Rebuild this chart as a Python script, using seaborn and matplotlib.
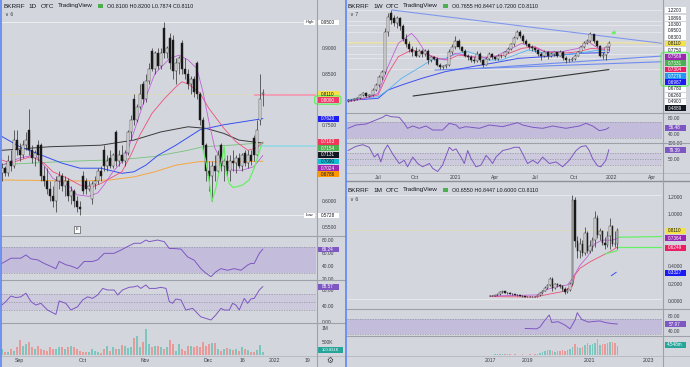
import numpy as np
import matplotlib
matplotlib.use("Agg")
import matplotlib.pyplot as plt
import seaborn as sns
from matplotlib.lines import Line2D
from matplotlib.patches import Rectangle, FancyBboxPatch
from matplotlib.ticker import FormatStrFormatter

W, H = 690, 367
sns.set_theme(style="white")
plt.rcParams['font.family'] = ['Liberation Sans', 'DejaVu Sans']

BG = '#d4d6dd'
TXT = '#3b3e48'
SEP = '#9da1aa'
UP_FACE, DN_FACE, EDGE = '#f4f4f4', '#111111', '#2f2f2f'
VOL_UP, VOL_DN = '#7cc6bd', '#e99a98'
RSI_C = '#7e57c2'

# ---------------- DAILY (1D) ----------------
d_open = [0.655,0.665,0.655,0.680,0.670,0.720,0.700,0.690,0.710,0.740,
          0.700,0.685,0.710,0.710,0.650,0.640,0.625,0.610,0.600,0.640,
          0.650,0.630,0.640,0.610,0.620,0.600,0.590,0.650,0.640,0.625,
          0.605,0.635,0.640,0.660,0.700,0.670,0.685,0.670,0.735,0.680,
          0.690,0.680,0.695,0.735,0.800,0.760,0.785,0.830,0.800,0.835,
          0.895,0.860,0.890,0.865,0.940,0.890,0.920,0.915,0.855,0.870,
          0.910,0.860,0.850,0.830,0.840,0.870,0.810,0.760,0.710,0.660,
          0.650,0.670,0.660,0.710,0.670,0.680,0.660,0.680,0.675,0.685,
          0.670,0.695,0.675,0.690,0.725,0.690,0.760,0.810]
d_high = [0.675,0.670,0.690,0.700,0.740,0.740,0.715,0.720,0.735,0.780,
          0.710,0.700,0.720,0.715,0.670,0.665,0.640,0.630,0.650,0.660,
          0.655,0.650,0.645,0.630,0.625,0.610,0.600,0.660,0.645,0.640,
          0.640,0.650,0.665,0.670,0.710,0.690,0.700,0.695,0.740,0.700,
          0.710,0.700,0.740,0.770,0.810,0.790,0.830,0.835,0.850,0.870,
          0.900,0.895,0.900,0.900,0.950,0.905,0.930,0.925,0.880,0.885,
          0.915,0.880,0.860,0.845,0.845,0.875,0.815,0.765,0.715,0.680,
          0.680,0.690,0.700,0.715,0.685,0.690,0.690,0.700,0.690,0.695,
          0.695,0.700,0.700,0.700,0.730,0.760,0.850,0.820]
d_low = [0.640,0.650,0.650,0.660,0.665,0.690,0.680,0.685,0.700,0.690,
         0.675,0.670,0.680,0.640,0.630,0.615,0.600,0.590,0.580,0.625,
         0.620,0.610,0.600,0.595,0.590,0.580,0.573,0.615,0.615,0.620,
         0.595,0.625,0.635,0.640,0.660,0.660,0.665,0.665,0.670,0.670,
         0.675,0.670,0.690,0.720,0.750,0.755,0.780,0.790,0.795,0.830,
         0.855,0.850,0.860,0.860,0.880,0.880,0.860,0.840,0.830,0.850,
         0.850,0.840,0.820,0.810,0.805,0.800,0.750,0.700,0.640,0.620,
         0.600,0.640,0.650,0.660,0.640,0.650,0.640,0.660,0.655,0.665,
         0.660,0.670,0.665,0.672,0.680,0.685,0.750,0.787]
d_close = [0.665,0.655,0.680,0.670,0.720,0.700,0.690,0.710,0.720,0.700,
           0.685,0.695,0.690,0.650,0.640,0.625,0.610,0.600,0.640,0.650,
           0.630,0.640,0.610,0.620,0.600,0.590,0.585,0.620,0.625,0.630,
           0.635,0.640,0.660,0.650,0.670,0.680,0.670,0.690,0.680,0.690,
           0.680,0.695,0.735,0.760,0.760,0.785,0.810,0.800,0.835,0.860,
           0.860,0.890,0.865,0.890,0.890,0.900,0.870,0.855,0.870,0.880,
           0.860,0.850,0.830,0.840,0.815,0.810,0.760,0.710,0.660,0.650,
           0.670,0.660,0.690,0.670,0.680,0.660,0.680,0.675,0.685,0.670,
           0.690,0.675,0.690,0.680,0.690,0.740,0.800,0.811]
d_volume_k = [225,100,100,225,160,300,575,350,410,500,
              290,225,350,225,190,160,290,225,225,310,
              310,225,280,350,290,225,160,125,100,125,
              225,150,100,75,225,350,160,290,225,225,
              375,350,250,300,625,725,290,475,975,410,
              290,325,325,290,225,300,540,410,160,410,
              225,160,350,350,290,350,280,500,350,410,
              450,450,225,160,225,250,225,190,225,160,
              310,225,180,125,100,200,375,100.831]

d_ma_black_x = [0,16,33,44,53,62,68,74,79,87]
d_ma_black_y = [0.700,0.707,0.710,0.720,0.736,0.746,0.743,0.733,0.720,0.714]
d_ma_blue_x = [0,6,13,20,26,33,40,44,48,52,58,66,74,87]
d_ma_blue_y = [0.727,0.707,0.691,0.675,0.665,0.665,0.655,0.658,0.671,0.690,0.710,0.740,0.750,0.762]
d_ma_green_x = [0,20,40,51,62,67,79,87]
d_ma_green_y = [0.672,0.678,0.682,0.688,0.700,0.707,0.711,0.7154]
d_ma_orange_x = [0,25,36,44,51,58,66,75,87]
d_ma_orange_y = [0.642,0.640,0.642,0.648,0.658,0.671,0.678,0.677,0.6786]
d_ma_red_x = [0,3,6,10,14,17,22,26,30,33,36,40,43,46,50,54,58,60,62,66,69,74,78,82,85,87]
d_ma_red_y = [0.681,0.675,0.681,0.688,0.675,0.658,0.645,0.632,0.628,0.635,0.645,0.658,0.691,
              0.730,0.772,0.800,0.824,0.834,0.830,0.812,0.782,0.743,0.717,0.700,0.705,0.7163]
d_ma_purple_x = [0,6,11,14,17,22,25,29,32,34,37,41,44,47,51,56,59,62,65,67,69,71,74,77,80,84,87]
d_ma_purple_y = [0.671,0.685,0.691,0.671,0.645,0.632,0.613,0.610,0.617,0.632,0.658,0.684,0.736,
                 0.789,0.850,0.880,0.886,0.877,0.860,0.815,0.756,0.704,0.671,0.661,0.661,0.668,0.690]
d_draw_x = [66.9,68,69.1,70,71.3,72.4,73.6,74.1,74.7,75.8,77.1,80.2,82.4,84.1,85.8,86.7]
d_draw_y = [0.704,0.678,0.639,0.600,0.626,0.658,0.691,0.707,0.658,0.635,0.627,0.632,0.642,0.665,0.697,0.714]
d_high_level, d_low_level, d_last = 0.95, 0.5728, 0.811
d_ray_pink = (84, 0.809)
d_ray_cyan = (84.7, 0.709)

d_rsi_x = [0,3,6.3,8,9.7,11.9,14.1,18,19.1,21.3,23,25.2,27.4,30.2,31.9,34.1,37.4,39.7,41.9,44.1,
           46.3,48,49.1,51.9,54.1,55.8,57.4,59.7,61.9,64.1,66.3,68,69.7,71.3,73,75.2,77.4,79.7,
           81.9,83,84.1,85.8,87]
d_rsi_y = [44,52,52,57,51,49.5,44,36,47,42,40,36,47,47,49.5,59.5,59.5,64.6,70,75,
           75,80,77.5,80,77.5,67,67,66,54,49,36,29,23.6,31,36,33.5,36,33.5,
           41.5,44,44,59.5,66.24]
d_osc_x = [0,1.3,3,4.7,6.3,8,9.7,11.3,13,15.2,18,19.1,21.3,23,25.2,26.9,28.6,30.2,31.9,33.6,
           35.2,37.4,38.6,40.2,42.4,44.1,45.2,46.3,48,49.1,51.3,53,54.7,55.8,56.9,58,59.7,61.3,
           63.6,66.3,68,69.7,71.3,73,74.1,75.8,76.9,78,79.1,80.8,81.9,83,84.1,85.8,87]
d_osc_y = [42.5,51,65,61,63,72,51,42.5,46.7,30,19,52.5,46.7,30,38,55,63,59,67.5,84,
           80,80,67.5,80,86.7,88,90.5,84,92.5,84,84,86.7,84,51,46.7,57.5,55,30,
           34,13,9,5,17.5,34,30,30,46.7,42.5,30,59,46.7,57.5,59,80,88.57]
d_ticks = [5.7,27,47.7,68.7,80.3,91,102]
d_ticklabels = ['Sep','Oct','Nov','Dec','16','2022','19']

# ---------------- WEEKLY (1W) ----------------
w_open = [0.10,0.12,0.11,0.13,0.14,0.18,0.20,0.16,0.18,0.24,
          0.30,0.40,0.46,0.95,1.18,1.12,1.06,1.12,1.02,0.87,
          0.80,0.74,0.72,0.66,0.72,0.68,0.72,0.60,0.64,0.62,
          0.55,0.52,0.53,0.54,0.70,0.76,0.84,0.76,0.72,0.66,
          0.64,0.61,0.59,0.68,0.60,0.55,0.62,0.68,0.64,0.62,
          0.66,0.65,0.70,0.74,0.80,0.88,0.95,0.90,0.84,0.80,
          0.76,0.75,0.73,0.68,0.65,0.70,0.66,0.68,0.70,0.66,
          0.71,0.63,0.61,0.60,0.62,0.66,0.71,0.76,0.82,0.84,
          0.92,0.84,0.78,0.66,0.67,0.7655]
w_high = [0.13,0.13,0.14,0.15,0.19,0.21,0.21,0.19,0.26,0.32,
          0.42,0.48,1.00,1.18,1.22,1.16,1.15,1.14,1.05,0.92,
          0.84,0.78,0.76,0.74,0.74,0.74,0.74,0.66,0.66,0.64,
          0.57,0.55,0.56,0.74,0.80,0.90,0.86,0.78,0.74,0.68,
          0.67,0.64,0.72,0.70,0.62,0.64,0.70,0.69,0.66,0.68,
          0.68,0.72,0.76,0.82,0.90,0.98,0.97,0.92,0.86,0.82,
          0.79,0.77,0.74,0.70,0.73,0.72,0.70,0.72,0.71,0.73,
          0.72,0.65,0.63,0.64,0.68,0.72,0.78,0.84,0.86,0.95,
          0.93,0.85,0.79,0.70,0.78,0.8447]
w_low = [0.09,0.10,0.10,0.12,0.13,0.16,0.15,0.15,0.17,0.22,
         0.28,0.36,0.44,0.90,1.05,1.02,1.00,0.98,0.84,0.76,
         0.70,0.66,0.64,0.64,0.64,0.66,0.56,0.58,0.60,0.53,
         0.50,0.50,0.51,0.53,0.68,0.74,0.74,0.70,0.64,0.60,
         0.58,0.57,0.58,0.58,0.52,0.54,0.60,0.62,0.60,0.61,
         0.63,0.64,0.69,0.73,0.78,0.86,0.88,0.82,0.78,0.74,
         0.72,0.70,0.65,0.60,0.64,0.62,0.64,0.66,0.64,0.65,
         0.60,0.57,0.58,0.59,0.61,0.65,0.70,0.75,0.80,0.83,
         0.82,0.76,0.64,0.62,0.60,0.72]
w_close = [0.12,0.11,0.13,0.14,0.18,0.20,0.16,0.18,0.24,0.30,
           0.40,0.46,0.95,1.14,1.10,1.06,1.12,1.02,0.87,0.80,
           0.74,0.70,0.66,0.72,0.68,0.72,0.60,0.64,0.62,0.55,
           0.52,0.53,0.54,0.70,0.76,0.84,0.76,0.72,0.66,0.64,
           0.61,0.59,0.68,0.60,0.55,0.62,0.68,0.64,0.62,0.66,
           0.65,0.70,0.74,0.80,0.88,0.95,0.90,0.84,0.80,0.76,
           0.75,0.73,0.68,0.65,0.70,0.66,0.68,0.70,0.66,0.71,
           0.63,0.61,0.60,0.62,0.66,0.71,0.76,0.82,0.84,0.92,
           0.84,0.78,0.66,0.67,0.7655,0.811]
w_ma_purple_x = [0,5.5,9.8,13,16.4,20.7,22.5,25.2,27.5,31.6,34.8,38.1,42.4,47.9,53.3,56.6,59.8,64.2,69.6,75,78.3,81.5,85]
w_ma_purple_y = [0.094,0.135,0.196,0.524,0.811,0.934,0.86,0.70,0.64,0.606,0.688,0.667,0.626,0.647,0.749,0.811,0.770,0.708,0.708,0.749,0.831,0.749,0.7569]
w_ma_red_x = [0,9.8,13,16.4,20.7,25.1,29.4,32.6,35.9,40.3,44.6,51.1,56.6,60.9,64.2,69.6,75,79.4,85]
w_ma_red_y = [0.094,0.176,0.442,0.647,0.729,0.688,0.626,0.606,0.667,0.647,0.640,0.667,0.749,0.770,0.708,0.688,0.708,0.749,0.7304]
w_ma_lblue_x = [0,9.8,13,17.4,22.8,27.2,31.6,35.9,39.2,42.4,45.7,50.1,54.4,58.7,64.2,69.6,75,80.5,85]
w_ma_lblue_y = [0.12,0.155,0.237,0.380,0.503,0.606,0.626,0.688,0.708,0.667,0.606,0.606,0.667,0.729,0.688,0.667,0.688,0.721,0.7276]
w_ma_blue_x = [0,9.8,13,17.4,24,31.6,40.3,47.9,55.5,64.2,75,85]
w_ma_blue_y = [0.11,0.135,0.237,0.298,0.380,0.462,0.524,0.573,0.626,0.647,0.688,0.6987]
w_trend_black = ([21.2,85], [0.164,0.4889])
w_trend_top = ([14.3,102.3], [1.22,0.811])
w_trend_low1 = ([28.3,102.3], [0.483,0.585])
w_trend_low2 = ([42.4,102.3], [0.503,0.655])
w_levels = [1.22,1.0896,1.03,0.95,0.83,0.775,0.678,0.626,0.49]
w_arrow = ((88.0,0.962),(84.8,0.913))
w_rsi_x = [0,2.6,5.9,9.1,11.3,12.4,14,16.7,18.3,19.4,21.1,23.2,25.4,27.6,30.8,33,35.2,36.3,38.4,42.8,
           46,50.4,53.6,55.3,56.9,60.2,63.4,66.7,71,75.4,77.5,79.7,81.9,84,85]
w_rsi_y = [54.5,62.9,65.5,75.7,82.5,88.4,84.2,82.5,67.2,54.5,60.4,54.5,60.4,50.2,50.2,67.2,62.9,54.5,58.7,54.5,
           62.9,58.7,65.5,68.9,62.9,57,54.5,60.4,54.5,60.4,67.2,60.4,48.5,51.8,56.48]
w_osc_x = [0,2.6,4.8,6.9,8.6,9.7,10.7,11.8,12.9,14.5,16.7,18.3,19.4,21.1,22.7,24.3,26.5,27.6,29.2,30.8,
           33,34.1,35.2,36.8,37.9,39,40.1,41.7,43.3,45,46,47.1,48.2,50.4,52.6,54.2,55.8,56.9,58.5,60.2,
           61.8,63.4,65.6,67.8,69.9,72.1,74.3,75.9,77.5,78.6,79.7,81.3,82.4,84,85]
w_osc_y = [76.4,90.2,95.5,87,55.1,65.9,39.2,76.4,94.5,65.9,34.1,44.6,23.4,55.1,34.1,23.4,34.1,18.1,8,28.7,
           87,76.4,81.7,55.1,34.1,76.4,49.8,23.4,28.7,60.5,49.8,34.1,55.1,76.4,81.7,87,87,65.9,34.1,44.6,
           34.1,55.1,34.1,39.4,23.4,44.6,76.4,89.1,92.3,76.4,49.8,26.5,23.4,44.6,79.39]
w_ticks = [9.9,21.9,34.9,47.9,61,73.4,85.8,99]
w_ticklabels = ['Jul','Oct','2021','Apr','Jul','Oct','2022','Apr']

# ---------------- MONTHLY (1M) ----------------
m_open = [0.06,0.06,0.058,0.065,0.075,0.10,0.11,0.095,0.09,0.085,
          0.075,0.07,0.065,0.06,0.055,0.05,0.048,0.045,0.05,0.048,
          0.065,0.09,0.12,0.15,0.18,0.25,0.15,0.19,0.18,0.17,
          0.14,0.10,0.13,0.20,1.16,0.69,0.58,0.66,0.55,0.78,
          0.58,0.63,0.70,0.96,0.76,0.80,0.67,0.64,0.75,0.86,
          0.66,0.655]
m_high = [0.065,0.065,0.07,0.08,0.11,0.12,0.12,0.10,0.10,0.09,
          0.085,0.08,0.07,0.07,0.06,0.06,0.055,0.055,0.06,0.07,
          0.10,0.13,0.17,0.20,0.28,0.27,0.21,0.21,0.20,0.18,
          0.16,0.15,0.22,1.22,1.20,0.75,0.72,0.70,0.85,0.80,
          0.70,0.74,1.03,0.99,0.84,0.82,0.74,0.80,0.95,0.88,
          0.80,0.8447]
m_low = [0.055,0.055,0.055,0.06,0.07,0.09,0.09,0.08,0.08,0.07,
         0.065,0.06,0.055,0.05,0.045,0.045,0.04,0.04,0.045,0.045,
         0.06,0.085,0.11,0.14,0.17,0.12,0.14,0.16,0.15,0.12,
         0.08,0.09,0.12,0.18,0.62,0.50,0.50,0.52,0.53,0.55,
         0.55,0.58,0.62,0.72,0.70,0.64,0.60,0.62,0.60,0.63,
         0.62,0.60]
m_close = [0.06,0.058,0.065,0.075,0.10,0.11,0.095,0.09,0.085,0.075,
           0.07,0.065,0.06,0.055,0.05,0.048,0.045,0.05,0.048,0.065,
           0.09,0.12,0.15,0.18,0.25,0.15,0.19,0.18,0.17,0.14,
           0.10,0.13,0.20,1.16,0.69,0.58,0.66,0.55,0.78,0.58,
           0.63,0.70,0.96,0.76,0.80,0.67,0.64,0.75,0.86,0.66,
           0.655,0.811]
m_volume_m = [0.2,0.2,0.3,0.3,0.4,0.5,0.4,0.3,0.3,0.2,
              0.3,0.2,0.2,0.3,0.2,0.2,0.3,0.2,0.3,0.5,
              1.0,1.6,2.0,2.4,2.2,1.8,1.6,2.0,1.7,2.2,
              2.0,2.4,2.8,4.0,5.4,4.0,3.2,4.0,4.9,5.7,
              4.9,5.2,5.7,7.6,4.9,5.2,5.4,5.7,6.5,6.2,
              6.0,4.548]
m_ma_purple_x = [0,19,22,27,31,33,36,39,42,45,49,51]
m_ma_purple_y = [0.057,0.069,0.126,0.165,0.184,0.26,0.41,0.51,0.66,0.70,0.70,0.72]
m_ma_pink_x = [0,18,24,29,33,34,36,40,44,48,51]
m_ma_pink_y = [0.05,0.045,0.08,0.107,0.17,0.30,0.376,0.45,0.51,0.567,0.62]
m_blue_seg = ([48.5,50.5],[0.29,0.33])
m_green_up = ([51.3,68.8],[0.733,0.742])
m_green_low = ([51.3,68.8],[0.625,0.625])
m_green_seg = ([46,51],[0.54,0.58])
m_rsi_x = [14,18.7,20,22,23.7,24.7,27.3,30,32,34,34.9,36.7,39.3,42,44,46,48.7,51]
m_rsi_y = [46,45,50,68.5,82,62,64,55,45,68,88,70,63,65,66,62,59,57.97]
m_ticks = [0.3,15.1,40,63.6]
m_ticklabels = ['2017','2019','2021','2023']

# ================= FIGURE =================
fig = plt.figure(figsize=(W/100, H/100), dpi=100)
fig.patch.set_facecolor(BG)


def add_ax(x0, y0, x1, y1):
    ax = fig.add_axes([x0/W, 1-y1/H, (x1-x0)/W, (y1-y0)/H])
    ax.set_facecolor(BG)
    for s in ax.spines.values():
        s.set_visible(False)
    ax.tick_params(length=0, labelsize=3.4, colors=TXT, pad=3)
    ax.set_xticks([])
    ax.set_yticks([])
    return ax


def right_ticks(ax, ticks, fmt='%.4f', labels=None):
    ax.yaxis.tick_right()
    ax.set_yticks(ticks)
    if labels is None:
        ax.yaxis.set_major_formatter(FormatStrFormatter(fmt))
    else:
        ax.set_yticklabels(labels)
    ax.tick_params(axis='y', pad=4, labelsize=3.5, colors=TXT)


def fline(x0, y0, x1, y1, color=SEP, lw=0.8):
    fig.add_artist(Line2D([x0/W, x1/W], [1-y0/H, 1-y1/H], transform=fig.transFigure,
                          color=color, lw=lw))


def tag(x, y, s, bg, fg='white', w=21, h=5.8, fs=3.3, ec='none'):
    fig.add_artist(Rectangle((x/W, 1-(y+h/2)/H), w/W, h/H, transform=fig.transFigure,
                             fc=bg, ec=ec, lw=0.4))
    fig.text((x+w/2)/W, 1-y/H, s, ha='center', va='center', fontsize=fs, color=fg)


def green_box(x0, y0, x1, y1):
    fig.add_artist(FancyBboxPatch((x0/W, 1-y1/H), (x1-x0)/W, (y1-y0)/H,
                                  boxstyle='round,pad=0.002,rounding_size=0.006',
                                  transform=fig.transFigure, fc='none', ec='#62f062', lw=0.9))


def candles(ax, o, h, l, c, width):
    o, h, l, c = map(np.asarray, (o, h, l, c))
    idx = np.arange(len(o))
    up = c >= o
    ax.vlines(idx, l, h, color=EDGE, lw=0.5, zorder=3)
    ax.bar(idx, np.maximum(np.abs(c-o), 0.002), bottom=np.minimum(o, c), width=width,
           color=np.where(up, UP_FACE, DN_FACE), edgecolor=EDGE, linewidth=0.35, zorder=4)
    return up


def line(ax, x, y, color, lw=0.6, z=2):
    sns.lineplot(x=np.asarray(x, float), y=np.asarray(y, float), ax=ax, color=color,
                 linewidth=lw, estimator=None, sort=False, zorder=z)


def osc_band(ax, lo, hi, alpha, mid=None):
    ax.axhspan(lo, hi, color='#9a7fd6', alpha=alpha, lw=0, zorder=0)
    levels = [lo, hi] + ([mid] if mid is not None else [])
    for v in levels:
        ax.axhline(v, color='#8a8d96', lw=0.45, ls=(0, (2, 2)), zorder=1)


def header(x, y, tf, ohlc):
    fs = 4.6
    fig.text(x/W, 1-y/H, 'BKRRF', fontsize=fs, color='#131722', va='center')
    fig.text((x+25)/W, 1-y/H, tf, fontsize=fs, color='#131722', va='center')
    fig.text((x+38)/W, 1-y/H, 'OTC', fontsize=fs, color='#131722', va='center')
    fig.text((x+55)/W, 1-y/H, 'TradingView', fontsize=fs, color='#131722', va='center')
    fig.add_artist(Rectangle(((x+95)/W, 1-(y+2.3)/H), 4.5/W, 4.6/H, transform=fig.transFigure,
                             fc='#4caf50', ec='none'))
    fig.text((x+104)/W, 1-y/H, ohlc, fontsize=3.9, color='#131722', va='center')


# ---------- left: daily ----------
axP = add_ax(1, 0, 316, 236)
axR = add_ax(1, 236, 316, 280)
axO = add_ax(1, 280, 316, 323)
axV = add_ax(1, 323, 316, 355)
DX = (-0.3, 104.7)
for a in (axP, axR, axO, axV):
    a.set_xlim(*DX)
axP.set_ylim(0.5324, 0.994)
axR.set_ylim(18.5, 86.2)
axO.set_ylim(-2.5, 105)
axV.set_ylim(0, 1190)

axP.axhline(d_high_level, color='white', lw=0.6, alpha=0.7, zorder=1)
axP.axhline(d_low_level, color='white', lw=0.6, alpha=0.7, zorder=1)
axP.axhline(d_last, color='#efe08a', lw=0.5, ls=(0, (1, 1)), zorder=1)
axP.hlines(d_ray_pink[1], d_ray_pink[0], DX[1], color='#f29bb4', lw=1.3, zorder=1)
axP.hlines(d_ray_cyan[1], d_ray_cyan[0], DX[1], color='#8fd8e6', lw=1.1, zorder=1)
line(axP, d_ma_orange_x, d_ma_orange_y, '#f5a742', 0.7)
line(axP, d_ma_green_x, d_ma_green_y, '#74c27a', 0.6)
line(axP, d_ma_black_x, d_ma_black_y, '#3a3a3a', 0.7)
line(axP, d_ma_blue_x, d_ma_blue_y, '#3550f0', 0.7)
line(axP, d_ma_red_x, d_ma_red_y, '#ee4f7a', 0.6)
line(axP, d_ma_purple_x, d_ma_purple_y, '#c060d8', 0.6)
d_up = candles(axP, d_open, d_high, d_low, d_close, 0.68)
line(axP, d_draw_x, d_draw_y, '#66f066', 0.9, z=5)
right_ticks(axP, [0.55, 0.60, 0.75, 0.85, 0.90])

osc_band(axR, 30, 70, 0.28)
line(axR, d_rsi_x, d_rsi_y, RSI_C, 0.7)
right_ticks(axR, [20, 40, 60, 80], '%.2f')
osc_band(axO, 30, 70, 0.13, mid=50)
line(axO, d_osc_x, d_osc_y, RSI_C, 0.7)
right_ticks(axO, [0, 40, 80], '%.2f')
axV.bar(np.arange(len(d_volume_k)), d_volume_k, width=0.82,
        color=np.where(d_up, VOL_UP, VOL_DN), lw=0)
right_ticks(axV, [500, 1000], labels=['500K', '1M'])
axV.set_xticks(d_ticks)
axV.set_xticklabels(d_ticklabels)
axV.tick_params(axis='x', pad=2.2, labelsize=3.7, colors=TXT)

# ---------- top right: weekly ----------
wP = add_ax(347, 0, 662, 113)
wR = add_ax(347, 113, 662, 143)
wO = add_ax(347, 143, 662, 172)
WX = (-0.33, 102.3)
for a in (wP, wR, wO):
    a.set_xlim(*WX)
wP.set_ylim(-0.0448, 1.343)
wR.set_ylim(17.1, 93.5)
wO.set_ylim(6.4, 101)
for lv in w_levels:
    wP.axhline(lv, color='white', lw=0.5, alpha=0.55, zorder=1)
wP.axhline(0.811, color='#efe08a', lw=1.4, alpha=0.6, zorder=1)
line(wP, *w_trend_top, '#7f98ee', 0.8)
line(wP, *w_trend_low1, '#6f8cf0', 0.8)
line(wP, *w_trend_low2, '#6f8cf0', 0.8)
line(wP, *w_trend_black, '#333333', 0.8)
line(wP, w_ma_blue_x, w_ma_blue_y, '#3d4ff2', 0.7)
line(wP, w_ma_lblue_x, w_ma_lblue_y, '#52b4f0', 0.6)
line(wP, w_ma_red_x, w_ma_red_y, '#ee4f7a', 0.6)
line(wP, w_ma_purple_x, w_ma_purple_y, '#c060d8', 0.6)
candles(wP, w_open, w_high, w_low, w_close, 0.66)
wP.annotate('', xy=w_arrow[1], xytext=w_arrow[0],
            arrowprops=dict(arrowstyle='->', color='#66f066', lw=0.9, mutation_scale=5))
osc_band(wR, 30, 70, 0.28)
line(wR, w_rsi_x, w_rsi_y, RSI_C, 0.7)
right_ticks(wR, [40, 80], '%.2f')
osc_band(wO, 30, 70, 0.13, mid=50)
line(wO, w_osc_x, w_osc_y, RSI_C, 0.7)
right_ticks(wO, [50, 100], '%.2f')
wO.set_xticks(w_ticks)
wO.set_xticklabels(w_ticklabels)
wO.tick_params(axis='x', pad=2.0, labelsize=3.7, colors=TXT)

# ---------- bottom right: monthly ----------
mP = add_ax(347, 181, 662, 309)
mR = add_ax(347, 309, 662, 336)
mV = add_ax(347, 336, 662, 355)
MX = (-57.2, 68.8)
for a in (mP, mR, mV):
    a.set_xlim(*MX)
mP.set_ylim(-0.093, 1.381)
mR.set_ylim(25.9, 97.9)
mV.set_ylim(0, 9.2)
mP.axhline(1.22, color='white', lw=0.5, alpha=0.6, zorder=1)
mP.axhline(0.02, color='white', lw=0.5, alpha=0.6, zorder=1)
mP.axhline(0.811, color='#efe08a', lw=0.5, ls=(0, (1, 1)), zorder=1)
line(mP, m_ma_pink_x, m_ma_pink_y, '#ee4f7a', 0.6)
line(mP, m_ma_purple_x, m_ma_purple_y, '#c060d8', 0.6)
m_up = candles(mP, m_open, m_high, m_low, m_close, 0.68)
line(mP, *m_blue_seg, '#3d4ff2', 0.7)
line(mP, *m_green_up, '#66f066', 0.9)
line(mP, *m_green_low, '#66f066', 0.9)
line(mP, *m_green_seg, '#66f066', 0.9)
right_ticks(mP, [0.0, 0.2, 0.4, 1.0, 1.2])
osc_band(mR, 30, 70, 0.28)
line(mR, m_rsi_x, m_rsi_y, RSI_C, 0.7)
right_ticks(mR, [40, 80], '%.2f')
mV.bar(np.arange(len(m_volume_m)), m_volume_m, width=0.75,
       color=np.where(m_up, VOL_UP, VOL_DN), lw=0)
mV.set_xticks(m_ticks)
mV.set_xticklabels(m_ticklabels)
mV.tick_params(axis='x', pad=1.8, labelsize=3.7, colors=TXT)

# ---------- separators ----------
for y in (236, 280, 323):
    fline(1, y, 345, y)
fline(1, 355.5, 345, 355.5, '#b4b7bf', 0.6)
fline(316.5, 0, 316.5, 367)
for y in (113, 143):
    fline(346, y, 690, y)
fline(346, 172.5, 690, 172.5, '#b4b7bf', 0.6)
fline(346, 180.5, 690, 180.5, '#8c9099', 1.0)
for y in (309, 336):
    fline(346, y, 690, y)
fline(346, 355.5, 690, 355.5, '#b4b7bf', 0.6)
fline(662.5, 0, 662.5, 367)
fline(0.6, 0, 0.6, 367, '#5c85f5', 1.2)
fline(345.5, 0, 345.5, 367, '#5c85f5', 1.2)

# ---------- headers ----------
header(3, 6, '1D', 'O0.8100 H0.8200 L0.7874 C0.8110')
header(348, 6, '1W', 'O0.7655 H0.8447 L0.7200 C0.8110')
header(348, 190, '1M', 'O0.6550 H0.8447 L0.6000 C0.8110')
fig.text(5/W, 1-15/H, '\u2228 6', fontsize=3.8, color=TXT, va='center')
fig.text(350/W, 1-15/H, '\u2228 7', fontsize=3.8, color=TXT, va='center')
fig.text(350/W, 1-199.5/H, '\u2228 6', fontsize=3.8, color=TXT, va='center')
fig.text(77/W, 1-229.5/H, 'E', fontsize=3, color='#131722', ha='center', va='center',
         bbox=dict(boxstyle='square,pad=0.3', fc='white', ec='#333333', lw=0.4))
fig.text(330/W, 1-361/H, '\u2699', fontsize=5.5, color=TXT, ha='center', va='center')

# ---------- price-scale labels ----------
tag(304, 22.5, 'High', 'white', '#131722', w=11, fs=3.0)
tag(317.5, 22.5, '0.9500', 'white', '#131722')
tag(304, 215.5, 'Low', 'white', '#131722', w=11, fs=3.0)
tag(317.5, 215.5, '0.5728', 'white', '#131722')
for y, s, bg, fg in [(94, '0.8110', '#f5e24a', '#131722'), (100, '0.8090', '#f2386a', 'white'),
                     (118.7, '0.7620', '#1e1ef0', 'white'), (141.7, '0.7163', '#f2385a', 'white'),
                     (148.3, '0.7154', '#4caf50', 'white'), (155, '0.7131', '#131722', 'white'),
                     (161.5, '0.7090', '#12bcd4', '#131722'), (168, '0.7024', '#9c27b0', 'white'),
                     (174.3, '0.6786', '#ff9800', '#131722')]:
    tag(317.5, y, s, bg, fg)
green_box(316, 96.5, 339.5, 103.5)
tag(317.5, 249.5, '66.24', RSI_C)
tag(317.5, 287, '88.57', RSI_C)
tag(317.5, 350, '100.831K', '#26a69a', w=25, fs=3.0)

w_tags = [(10, '1.2200', 'white', '#131722'), (18.3, '1.0896', 'white', '#131722'),
          (25, '1.0300', 'white', '#131722'), (30.7, '0.9500', 'white', '#131722'),
          (37.3, '0.8300', 'white', '#131722'), (43.5, '0.8110', '#f5e24a', '#131722'),
          (50, '0.7750', 'white', '#131722'), (56.7, '0.7569', '#9c27b0', 'white'),
          (63.2, '0.7331', '#4caf50', 'white'), (69.5, '0.7304', '#e91e63', 'white'),
          (76, '0.7276', '#2196f3', 'white'), (82.3, '0.6987', '#1a1af5', 'white'),
          (89, '0.6780', 'white', '#131722'), (95.5, '0.6260', 'white', '#131722'),
          (101.7, '0.4900', 'white', '#131722'), (108.3, '0.4889', '#131722', 'white')]
for y, s, bg, fg in w_tags:
    tag(664.5, y, s, bg, fg, w=21)
green_box(662.5, 53, 687.5, 85.5)
tag(664.5, 127.7, '56.48', RSI_C)
tag(664.5, 150, '79.39', RSI_C)

for y, s, bg, fg in [(231, '0.8110', '#f5e24a', '#131722'), (238.3, '0.7364', '#9c27b0', 'white'),
                     (247.7, '0.6249', '#e91e63', 'white'), (272.7, '0.3327', '#1a1af5', 'white')]:
    tag(664.5, y, s, bg, fg)
tag(664.5, 324.3, '57.97', RSI_C)
tag(664.5, 345, '4.548m', '#26a69a')

fig.savefig('out.png', dpi=100, facecolor=BG)
